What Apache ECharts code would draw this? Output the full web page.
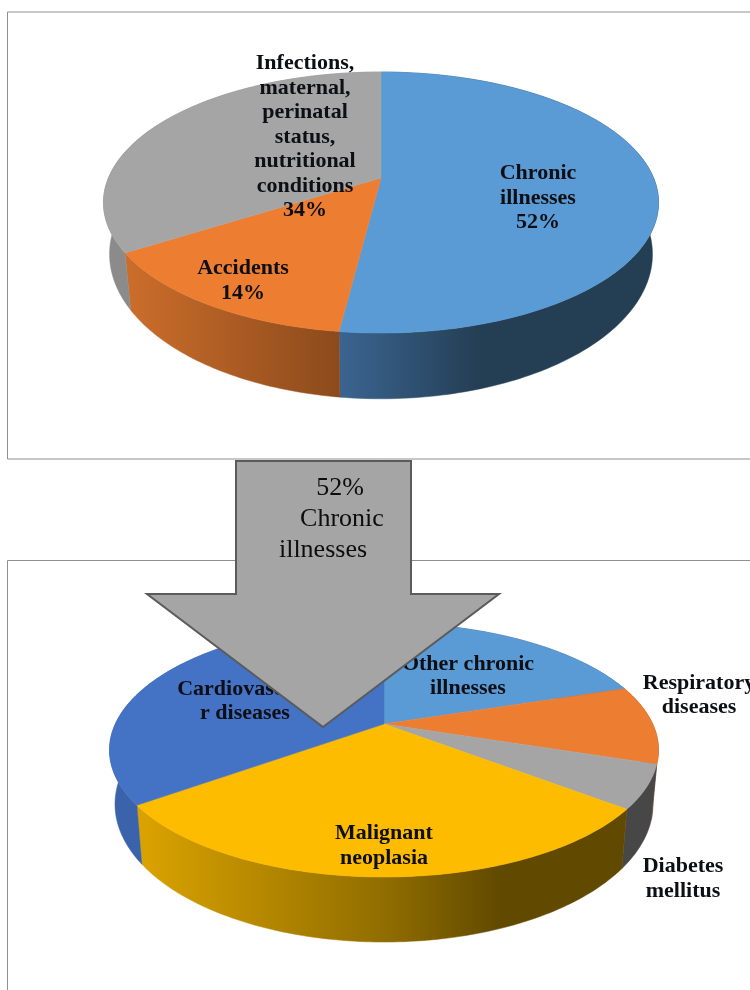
<!DOCTYPE html>
<html>
<head>
<meta charset="utf-8">
<style>html,body{margin:0;padding:0;background:#fff;overflow:hidden}#c{width:750px;height:990px}</style>
<script src="https://cdn.jsdelivr.net/npm/echarts@6/dist/echarts.min.js"></script>
</head>
<body>
<div id="c"></div>
<script>
// ---- data ----
var topNames = ['Chronic\nillnesses', 'Accidents', 'Infections,\nmaternal,\nperinatal\nstatus,\nnutritional\nconditions'];
var topValues = [52, 14, 34];
var lowerNames = ['Other chronic\nillnesses', 'Respiratory\ndiseases', 'Diabetes\nmellitus', 'Malignant\nneoplasia', 'Cardiovascula\nr diseases'];
var lowerValues = [20, 10, 5.5, 29.5, 35];
var arrowText = ['52%', 'Chronic', 'illnesses'];

// ---- layout and style ----
var SERIF = '"Liberation Serif","Times New Roman",serif';
var pieTop = {
  ax: 381, ay: 178, sx: 272.6, sy: 125.9, p: -0.188,
  bx: 381, by: 227, kx: 0.978, ky: 1.108,
  showValue: true,
  faces: ['#5b9bd5', '#ed7d31', '#a5a5a5'],
  walls: [
    [[340, '#3a6590'], [480, '#243e54'], [660, '#243e54']],
    [[125, '#cc6e2b'], [340, '#8c4a1c']],
    [[100, '#8b8b8b'], [135, '#8b8b8b']]
  ],
  labels: [[538, 198], [243, 281], [305, 137]]
};
var pieLower = {
  ax: 384, ay: 724, sx: 268.7, sy: 121.7, p: -0.2047,
  bx: 384, by: 776, kx: 0.98, ky: 1.085,
  showValue: false,
  faces: ['#5b9bd5', '#ed7d31', '#a5a5a5', '#fdbc00', '#4472c4'],
  walls: [
    [[100, '#365f8a'], [660, '#365f8a']],
    [[600, '#a35722'], [660, '#a35722']],
    [[620, '#474747'], [660, '#474747']],
    [[144, '#d9a200'], [390, '#8f6c00'], [500, '#614900'], [630, '#614900']],
    [[100, '#3a63ab'], [145, '#3a63ab']]
  ],
  labels: [[468, 676.5], [699, 695.5], [683, 879], [384, 846], [245, 701.5]]
};

function project(pie, deg, lower) {
  var t = deg * Math.PI / 180, x = Math.sin(t), y = -Math.cos(t), d = 1 + pie.p * y;
  var px = pie.sx * x / d, py = pie.sy * y / d;
  return lower ? [pie.bx + px * pie.kx, pie.by + py * pie.ky] : [pie.ax + px, pie.ay + py];
}
function arc(pie, a0, a1, lower) {
  var pts = [], n = Math.max(2, Math.ceil(Math.abs(a1 - a0)));
  for (var i = 0; i <= n; i++) pts.push(project(pie, a0 + (a1 - a0) * i / n, lower));
  return pts;
}
function pieSeries(pie, names, values) {
  var total = values.reduce(function (a, b) { return a + b; }, 0);
  return {
    type: 'custom',
    coordinateSystem: 'none',
    silent: true,
    animation: false,
    clip: false,
    data: names.map(function (n, i) { return { name: n, value: values[i] }; }),
    renderItem: function (params, api) {
      var i = params.dataIndex, before = 0;
      for (var k = 0; k < i; k++) before += values[k];
      var a0 = before / total * 360, a1 = (before + api.value(0)) / total * 360;
      var rim = arc(pie, a0, a1, false);
      var wallStops = pie.walls[i], xa = wallStops[0][0], xb = wallStops[wallStops.length - 1][0];
      var grad = new echarts.graphic.LinearGradient(xa, 0, xb, 0, wallStops.map(function (s) {
        return { offset: (s[0] - xa) / (xb - xa), color: s[1] };
      }), true);
      var text = names[i] + (pie.showValue ? '\n' + values[i] + '%' : '');
      return {
        type: 'group',
        children: [
          { type: 'polygon', z2: 0, shape: { points: rim.concat(arc(pie, a1, a0, true)) },
            style: { fill: grad, stroke: grad, lineWidth: 0.5 } },
          { type: 'polygon', z2: 1, shape: { points: [[pie.ax, pie.ay]].concat(rim) },
            style: { fill: pie.faces[i], stroke: pie.faces[i], lineWidth: 0.5 } },
          { type: 'text', z2: 2, x: pie.labels[i][0], y: pie.labels[i][1],
            style: { text: text, align: 'center', verticalAlign: 'middle', fill: '#0d0f14',
              fontFamily: SERIF, fontWeight: 'bold', fontSize: 22, lineHeight: 24.5 } }
        ]
      };
    }
  };
}

var arrowLines = [[340, 488.5], [342, 519], [323, 550.5]];
var chart = echarts.init(document.getElementById('c'), null, { renderer: 'canvas' });
chart.setOption({
  backgroundColor: '#ffffff',
  animation: false,
  series: [pieSeries(pieTop, topNames, topValues), pieSeries(pieLower, lowerNames, lowerValues)],
  graphic: { elements: [
    { type: 'rect', z: 0, silent: true, shape: { x: 7.5, y: 12, width: 800, height: 447 },
      style: { fill: 'none', stroke: '#8f8f8f', lineWidth: 1 } },
    { type: 'rect', z: 0, silent: true, shape: { x: 7.5, y: 560.5, width: 800, height: 500 },
      style: { fill: 'none', stroke: '#8f8f8f', lineWidth: 1 } },
    { type: 'polygon', z: 10, silent: true,
      shape: { points: [[236, 461], [411, 461], [411, 594], [499, 594], [323, 727], [147, 594], [236, 594]] },
      style: { fill: '#a5a5a5', stroke: '#5b5b5b', lineWidth: 2 } }
  ].concat(arrowText.map(function (t, i) {
    return { type: 'text', z: 11, silent: true, x: arrowLines[i][0], y: arrowLines[i][1],
      style: { text: t, align: 'center', verticalAlign: 'middle', fill: '#0d0d0d',
        fontFamily: SERIF, fontSize: 26 } };
  })) }
});
</script>
</body>
</html>
